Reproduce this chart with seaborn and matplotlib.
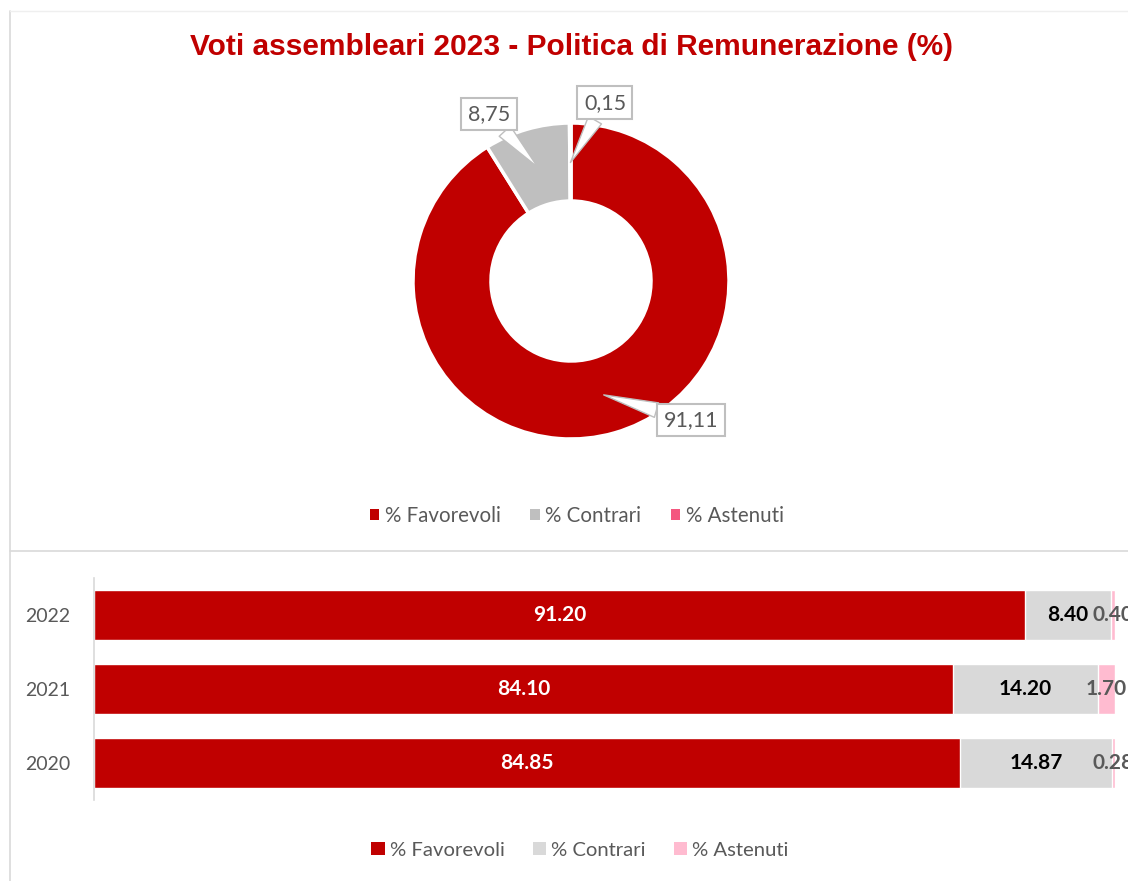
import matplotlib
matplotlib.use("Agg")
import matplotlib.pyplot as plt
import seaborn as sns
import pandas as pd
import numpy as np
from matplotlib.patches import Patch
from matplotlib.lines import Line2D

# ---------------- data ----------------
donut_labels = ["% Favorevoli", "% Contrari", "% Astenuti"]
donut_values = [91.11, 8.75, 0.15]
donut_text = ["91,11", "8,75", "0,15"]

years = ["2022", "2021", "2020"]
favorevoli = [91.20, 84.10, 84.85]
contrari = [8.40, 14.20, 14.87]
astenuti = [0.40, 1.70, 0.28]

title = "Voti assembleari 2023 - Politica di Remunerazione (%)"

# ---------------- style ----------------
RED = "#C00000"
GREY_D = "#BFBFBF"
PINK_D = "#F4577F"
GREY_B = "#D9D9D9"
PINK_B = "#FFBBD0"
TXT = "#595959"
LINE = "#D9D9D9"

sns.set_theme(style="white")
plt.rcParams['font.family'] = ['Lato', 'DejaVu Sans']

W, H = 1128, 881
fig = plt.figure(figsize=(W / 100, H / 100), dpi=100)


def px_rect(x0, y0, x1, y1):
    return [x0 / W, 1 - y1 / H, (x1 - x0) / W, (y1 - y0) / H]


def fx(x):
    return x / W


def fy(y):
    return 1 - y / H


# panel borders
fig.add_artist(Line2D([fx(10), fx(10)], [fy(11), fy(H + 5)], transform=fig.transFigure, color=LINE, lw=1.2))
fig.add_artist(Line2D([fx(10), fx(W + 5)], [fy(11), fy(11)], transform=fig.transFigure, color="#EFEFEF", lw=1.0))
fig.add_artist(Line2D([fx(10), fx(W + 5)], [fy(551), fy(551)], transform=fig.transFigure, color=LINE, lw=1.2))

# title
fig.text(fx(571), fy(47), title, ha='center', va='center', fontsize=21.5, fontweight='bold',
         color=RED, family=['Liberation Sans', 'DejaVu Sans'])

# ---------------- donut ----------------
R_PX = 158.0
half = 200.0
axd = fig.add_axes(px_rect(571 - half, 281 - half, 571 + half, 281 + half))
wedges, _ = axd.pie(donut_values, colors=[RED, GREY_D, PINK_D], startangle=90, counterclock=False,
                    radius=1.0, wedgeprops=dict(width=1 - 80 / R_PX, edgecolor='white', linewidth=2.5))
lim = half / R_PX
axd.set_xlim(-lim, lim)
axd.set_ylim(-lim, lim)
axd.set_aspect('equal')
axd.axis('off')

label_pos = [(0.759, -0.880), (-0.519, 1.057), (0.215, 1.127)]
for w, txt, pos in zip(wedges, donut_text, label_pos):
    th = np.deg2rad((w.theta1 + w.theta2) / 2)
    tip = (0.75 * np.cos(th), 0.75 * np.sin(th))
    axd.annotate(txt, xy=tip, xytext=pos, ha='center', va='center', fontsize=15.5, color=TXT,
                 bbox=dict(boxstyle='square,pad=0.3', fc='white', ec=GREY_D, lw=1.5),
                 arrowprops=dict(arrowstyle='wedge,tail_width=0.7,shrink_factor=0.5', fc='white',
                                 ec=GREY_D, lw=1.0, shrinkA=0, shrinkB=0),
                 annotation_clip=False)

leg1 = fig.legend(handles=[Patch(fc=c, ec='none', label=l) for c, l in zip([RED, GREY_D, PINK_D], donut_labels)],
                  loc='center', bbox_to_anchor=(fx(577), fy(516)), ncol=3, frameon=False, fontsize=14.8,
                  handlelength=0.45, handleheight=0.45, columnspacing=1.45, handletextpad=0.28, labelcolor=TXT)

# ---------------- stacked bars ----------------
df = pd.DataFrame({"year": years, "fav": favorevoli, "con": contrari, "ast": astenuti})
df["fc"] = df["fav"] + df["con"]
df["tot"] = df["fc"] + df["ast"]

axb = fig.add_axes(px_rect(94, 578, 1115, 800))
for col, c in [("tot", PINK_B), ("fc", GREY_B), ("fav", RED)]:
    sns.barplot(data=df, y="year", x=col, order=years, color=c, orient='h', width=0.68,
                saturation=1, ax=axb)
axb.set_xlim(0, 100)
axb.set_xlabel("")
axb.set_ylabel("")
axb.set_xticks([])
for s in ["top", "right", "bottom"]:
    axb.spines[s].set_visible(False)
axb.spines["left"].set_color(LINE)
axb.spines["left"].set_linewidth(1.2)
axb.tick_params(axis='y', length=0, pad=17, labelsize=14, labelcolor=TXT)
axb.set_facecolor('none')

for i, r in df.iterrows():
    axb.text(r["fav"] / 2, i, f"{r['fav']:.2f}", ha='center', va='center', color='white',
             fontsize=15, fontweight='bold')
    axb.text(r["fav"] + r["con"] / 2, i, f"{r['con']:.2f}", ha='center', va='center', color='black',
             fontsize=15, fontweight='bold')
    axb.text(r["fc"] + r["ast"] / 2, i, f"{r['ast']:.2f}", ha='center', va='center', color=TXT,
             fontsize=15, fontweight='bold', clip_on=False)

leg2 = fig.legend(handles=[Patch(fc=c, ec='none', label=l) for c, l in zip([RED, GREY_B, PINK_B], donut_labels)],
                  loc='center', bbox_to_anchor=(fx(580), fy(850)), ncol=3, frameon=False, fontsize=14.6,
                  handlelength=0.65, handleheight=0.65, columnspacing=1.4, handletextpad=0.25, labelcolor=TXT)

fig.savefig("out.png", dpi=100)
